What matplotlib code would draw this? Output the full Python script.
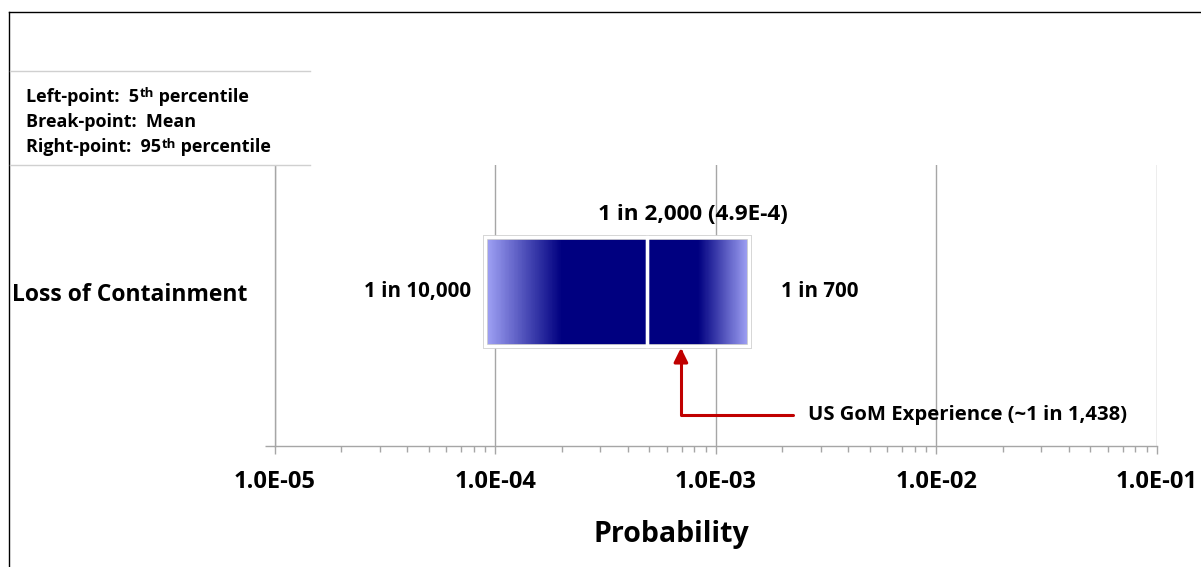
import numpy as np
import matplotlib
matplotlib.use("Agg")
import matplotlib.pyplot as plt
from matplotlib.colors import LinearSegmentedColormap
from matplotlib.lines import Line2D
from matplotlib.patches import Rectangle
from matplotlib.ticker import NullFormatter

plt.rcParams['font.family'] = ['Open Sans', 'DejaVu Sans']
plt.rcParams['font.weight'] = 'bold'

# data
category = 'Loss of Containment'
p05 = 9.0e-5      # left point
p_mean = 4.9e-4   # break point
p95 = 1.42e-3     # right point
gom = 1 / 1438    # US GoM experience

low_label = '1 in 10,000'
mean_label = '1 in 2,000 (4.9E-4)'
high_label = '1 in 700'
gom_label = 'US GoM Experience (~1 in 1,438)'

decades = [1e-5, 1e-4, 1e-3, 1e-2, 1e-1]
decade_labels = ['1.0E-05', '1.0E-04', '1.0E-03', '1.0E-02', '1.0E-01']

legend_lines = [
    [('Left-point:  5', False), ('th', True), (' percentile', False)],
    [('Break-point:  Mean', False)],
    [('Right-point:  95', False), ('th', True), (' percentile', False)],
]

W, H = 1201, 567
fig = plt.figure(figsize=(W / 100, H / 100), dpi=100)
fig.patch.set_facecolor('white')


def fx(px):
    return px / W


def fy(py):
    return 1 - py / H


gray = '#a6a6a6'
ax = fig.add_axes([fx(274.7), fy(446), fx(1156.7) - fx(274.7), fy(165) - fy(446)])
ax.set_xscale('log')
ax.set_xlim(decades[0], decades[-1])
ylo, yhi = -0.551, 0.453
ax.set_ylim(ylo, yhi)

for s in ['top', 'right']:
    ax.spines[s].set_visible(False)
for s in ['left', 'bottom']:
    ax.spines[s].set_color(gray)
    ax.spines[s].set_linewidth(1.0)

ax.grid(axis='x', which='major', color=gray, lw=1.0, zorder=0)
ax.set_axisbelow(True)

ax.set_xticks(decades, decade_labels)
ax.xaxis.set_minor_formatter(NullFormatter())
ax.tick_params(axis='x', which='major', direction='out', length=6, width=1, color=gray,
               labelsize=17, pad=11)
ax.tick_params(axis='x', which='minor', direction='out', length=4.5, width=1, color=gray)

ax.set_yticks([0], [category])
ax.set_yticks([ylo], minor=True)
ax.tick_params(axis='y', which='major', length=0, labelsize=16.5, pad=19.5)
ax.tick_params(axis='y', which='minor', direction='out', length=7.5, width=1, color=gray)

# gradient bar
cmap = LinearSegmentedColormap.from_list('blu', ['#a3a5f7', '#000080'])
nseg = 200
h = 0.39
t = (np.arange(nseg) + 0.5) / nseg
xl = np.geomspace(p05, p_mean, nseg + 1)
xr = np.geomspace(p_mean, p95, nseg + 1)
vl = np.clip(t / 0.47, 0, 1)
vr = np.clip((1 - t) / 0.5, 0, 1)
X = np.concatenate([xl, xr[1:]])
V = np.concatenate([vl, vr])[None, :]
ax.pcolormesh(X, [-h / 2, h / 2], V, cmap=cmap, vmin=0, vmax=1, shading='flat', zorder=2)

ax.barh(0, p95 - p05, left=p05, height=h, facecolor='none', edgecolor='#c8c8c8', lw=3.4, zorder=3)
ax.barh(0, [p_mean - p05, p95 - p_mean], left=[p05, p_mean], height=h,
        facecolor='none', edgecolor='white', lw=2.4, zorder=4)

# bar labels
ax.annotate(low_label, xy=(p05, 0), xytext=(-10, 0), textcoords='offset points',
            ha='right', va='center', fontsize=14.8)
ax.annotate(high_label, xy=(p95, 0), xytext=(23, 0), textcoords='offset points',
            ha='left', va='center', fontsize=14.8)
ax.annotate(mean_label, xy=(p_mean, h / 2), xytext=(33, 16), textcoords='offset points',
            ha='center', va='center', fontsize=16.2)

# GoM arrow
red = '#c00000'
x_end, y_line = 2.24e-3, -0.44
ax.annotate('', xy=(gom, -0.2), xytext=(x_end, y_line),
            arrowprops=dict(arrowstyle='-|>,head_length=0.85,head_width=0.42', color=red, lw=2.2,
                            connectionstyle='angle,angleA=0,angleB=90,rad=0',
                            shrinkA=0, shrinkB=0), zorder=5)
ax.annotate(gom_label, xy=(x_end, y_line), xytext=(11, 0), textcoords='offset points',
            ha='left', va='center', fontsize=14.6)

# overlay: frame lines, legend box, x label
ov = fig.add_axes([0, 0, 1, 1])
ov.set_zorder(5)
ov.set_xlim(0, 1)
ov.set_ylim(0, 1)
ov.axis('off')

ov.add_line(Line2D([fx(9), 1], [fy(12), fy(12)], color='black', lw=1))
ov.add_line(Line2D([fx(9), fx(9)], [fy(12), 0], color='black', lw=1))

ov.add_patch(Rectangle((fx(10), fy(165)), fx(310) - fx(10), fy(71) - fy(165),
                       facecolor='white', edgecolor='none'))
for yy in [71, 165]:
    ov.add_line(Line2D([fx(10), fx(310)], [fy(yy), fy(yy)], color='#d0d0d0', lw=1))

for i, pieces in enumerate(legend_lines):
    base = fy(101.5 + i * 25.5)
    first = None
    prev = None
    for txt, sup in pieces:
        if prev is None:
            prev = ov.text(fx(26), base, txt, fontsize=13, va='baseline', ha='left')
            first = prev
        elif sup:
            prev = ov.annotate(txt, xy=(1, 1), xycoords=prev, xytext=(0.6, 0.5),
                               textcoords='offset points', fontsize=9.5, va='top', ha='left')
        else:
            prev = ov.annotate(txt, xy=(1, 0), xycoords=(prev, first), fontsize=13,
                               va='bottom', ha='left')

ov.text(fx(671), fy(542), 'Probability', fontsize=20.5, ha='center', va='baseline')

fig.savefig('out.png', dpi=100)
